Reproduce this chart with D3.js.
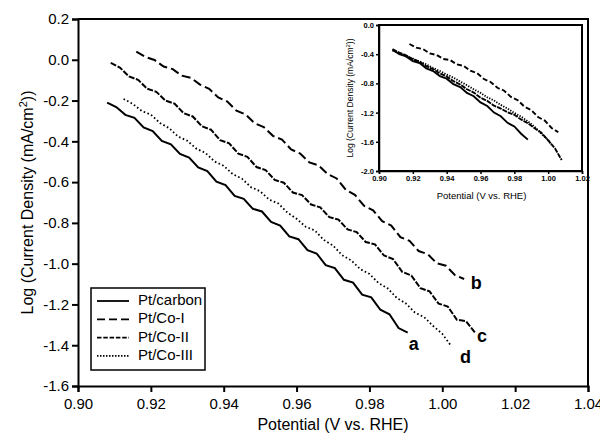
<!DOCTYPE html>
<html>
<head>
<meta charset="utf-8">
<script src="https://cdn.jsdelivr.net/npm/d3@7"></script>
<style>
  body { margin: 0; background: #fff; }
  svg { display: block; font-family: "Liberation Sans", Arial, sans-serif; }
</style>
</head>
<body>
<svg id="chart" width="600" height="441"></svg>
<script>
// Tafel-type plot: Log(current density) vs potential, with inset

// main panel data
const carbonV = [0.908,0.9105,0.913,0.9155,0.918,0.9205,0.923,0.9255,0.928,0.9305,0.933,0.9355,0.938,0.9405,0.943,0.9455,0.948,0.9505,0.953,0.9555,0.958,0.9605,0.963,0.9655,0.968,0.9705,0.973,0.9755,0.978,0.9805,0.983,0.9855,0.988,0.9905];
const carbonJ = [-0.210,-0.232,-0.270,-0.285,-0.332,-0.350,-0.398,-0.415,-0.462,-0.480,-0.528,-0.546,-0.598,-0.615,-0.668,-0.682,-0.731,-0.744,-0.795,-0.813,-0.866,-0.880,-0.934,-0.950,-1.007,-1.022,-1.079,-1.093,-1.152,-1.165,-1.226,-1.248,-1.316,-1.338];

const co1V = [0.916,0.9185,0.921,0.9235,0.926,0.9285,0.931,0.9335,0.936,0.9385,0.941,0.9435,0.946,0.9485,0.951,0.9535,0.956,0.9585,0.961,0.9635,0.966,0.9685,0.971,0.9735,0.976,0.9785,0.981,0.9835,0.986,0.9885,0.991,0.9935,0.996,0.9985,1.001,1.0035,1.006];
const co1J = [0.040,0.014,-0.001,-0.033,-0.046,-0.078,-0.089,-0.122,-0.142,-0.185,-0.205,-0.250,-0.268,-0.312,-0.330,-0.373,-0.391,-0.440,-0.460,-0.503,-0.518,-0.560,-0.582,-0.638,-0.662,-0.716,-0.738,-0.792,-0.813,-0.870,-0.888,-0.938,-0.953,-0.998,-1.010,-1.056,-1.075];

const co2V = [0.909,0.9115,0.914,0.9165,0.919,0.9215,0.924,0.9265,0.929,0.9315,0.934,0.9365,0.939,0.9415,0.944,0.9465,0.949,0.9515,0.954,0.9565,0.959,0.9615,0.964,0.9665,0.969,0.9715,0.974,0.9765,0.979,0.9815,0.984,0.9865,0.989,0.9915,0.994,0.9965,0.999,1.0015,1.004,1.0065,1.009];
const co2J = [-0.015,-0.038,-0.082,-0.098,-0.142,-0.157,-0.200,-0.215,-0.262,-0.278,-0.326,-0.343,-0.394,-0.410,-0.460,-0.476,-0.526,-0.541,-0.589,-0.603,-0.651,-0.664,-0.710,-0.724,-0.772,-0.784,-0.832,-0.845,-0.894,-0.905,-0.960,-0.978,-1.040,-1.058,-1.120,-1.136,-1.196,-1.210,-1.275,-1.282,-1.338];

const co3V = [0.9125,0.915,0.9175,0.92,0.9225,0.925,0.9275,0.93,0.9325,0.935,0.9375,0.94,0.9425,0.945,0.9475,0.95,0.9525,0.955,0.9575,0.96,0.9625,0.965,0.9675,0.97,0.9725,0.975,0.9775,0.98,0.9825,0.985,0.9875,0.99,0.9925,0.995,0.9975,1.0,1.0025];
const co3J = [-0.192,-0.216,-0.251,-0.269,-0.310,-0.335,-0.377,-0.397,-0.436,-0.457,-0.499,-0.520,-0.561,-0.583,-0.625,-0.645,-0.686,-0.705,-0.750,-0.780,-0.819,-0.837,-0.884,-0.911,-0.958,-0.984,-1.027,-1.050,-1.095,-1.121,-1.168,-1.195,-1.240,-1.262,-1.306,-1.344,-1.405];

// inset data
const insCarbonV = [0.908,0.912,0.916,0.92,0.924,0.928,0.932,0.936,0.94,0.944,0.948,0.952,0.956,0.96,0.964,0.968,0.972,0.976,0.98,0.984,0.988];
const insCarbonJ = [-0.34,-0.40,-0.43,-0.495,-0.52,-0.595,-0.63,-0.70,-0.735,-0.81,-0.85,-0.93,-0.975,-1.06,-1.11,-1.20,-1.25,-1.34,-1.39,-1.49,-1.57];

const insCo1V = [0.918,0.922,0.926,0.93,0.934,0.938,0.942,0.946,0.95,0.954,0.958,0.962,0.966,0.97,0.974,0.978,0.982,0.986,0.99,0.994,0.998,1.002,1.006];
const insCo1J = [-0.26,-0.31,-0.33,-0.39,-0.41,-0.465,-0.48,-0.54,-0.56,-0.625,-0.66,-0.74,-0.78,-0.86,-0.90,-0.985,-1.03,-1.12,-1.165,-1.26,-1.31,-1.41,-1.47];

const insCo2V = [0.908,0.912,0.916,0.92,0.924,0.928,0.932,0.936,0.94,0.944,0.948,0.952,0.956,0.96,0.964,0.968,0.972,0.976,0.98,0.984,0.988,0.992,0.996,1.0,1.004,1.008];
const insCo2J = [-0.33,-0.38,-0.415,-0.47,-0.505,-0.565,-0.605,-0.665,-0.705,-0.77,-0.815,-0.88,-0.925,-0.995,-1.04,-1.105,-1.145,-1.195,-1.23,-1.295,-1.345,-1.415,-1.475,-1.58,-1.69,-1.85];

const insCo3V = [0.908,0.912,0.916,0.92,0.924,0.928,0.932,0.936,0.94,0.944,0.948,0.952,0.956,0.96,0.964,0.968,0.972,0.976,0.98,0.984,0.988,0.992,0.996,1.0,1.002];
const insCo3J = [-0.35,-0.385,-0.43,-0.46,-0.50,-0.54,-0.59,-0.63,-0.68,-0.72,-0.775,-0.825,-0.88,-0.93,-0.99,-1.035,-1.095,-1.145,-1.205,-1.255,-1.32,-1.395,-1.49,-1.575,-1.64];

// ticks and labels
const xTicks = [0.90,0.92,0.94,0.96,0.98,1.00,1.02,1.04];
const yTicks = [0.2,0.0,-0.2,-0.4,-0.6,-0.8,-1.0,-1.2,-1.4,-1.6];
const insXTicks = [0.90,0.92,0.94,0.96,0.98,1.00,1.02];
const insYTicks = [0.0,-0.4,-0.8,-1.2,-1.6,-2.0];
const seriesNames = ["Pt/carbon", "Pt/Co-I", "Pt/Co-II", "Pt/Co-III"];
const curveTags = ["a", "b", "c", "d"];
const dashes = [null, "9,4", "6,1.6", "1.6,2.4"];

const fmt = v => v.toFixed(2);
const fmtY = v => v.toFixed(1).replace("-0.0", "0.0");

function zip(xs, ys) {
    return xs.map((x, i) => ({ v: x, j: ys[i] }));
}

const mainSeries = [zip(carbonV, carbonJ), zip(co1V, co1J), zip(co2V, co2J), zip(co3V, co3J)];
const insetSeries = [zip(insCarbonV, insCarbonJ), zip(insCo1V, insCo1J), zip(insCo2V, insCo2J), zip(insCo3V, insCo3J)];

const svg = d3.select("#chart");

// main panel
const m = { left: 78, right: 588, top: 19, bottom: 386 };
const x = d3.scaleLinear().domain([0.90, 1.04]).range([m.left, m.right]);
const y = d3.scaleLinear().domain([-1.6, 0.2]).range([m.bottom, m.top]);

svg.append("g")
    .attr("transform", `translate(0,${m.bottom})`)
    .call(d3.axisBottom(x).tickValues(xTicks).tickFormat(fmt).tickSizeOuter(0).tickSize(6).tickPadding(6))
    .call(g => g.selectAll("text").attr("font-size", 15).attr("fill", "#000").attr("font-family", "Liberation Sans, Arial"))
    .call(g => g.selectAll("line,path").attr("stroke", "#000").attr("stroke-width", 2));

svg.append("g")
    .attr("transform", `translate(${m.left},0)`)
    .call(d3.axisLeft(y).tickValues(yTicks).tickFormat(fmtY).tickSizeOuter(0).tickSize(6).tickPadding(3))
    .call(g => g.selectAll("text").attr("font-size", 15).attr("fill", "#000").attr("font-family", "Liberation Sans, Arial"))
    .call(g => g.selectAll("line,path").attr("stroke", "#000").attr("stroke-width", 2));

// frame top/right
svg.append("path")
    .attr("d", `M${m.left},${m.top}H${m.right}V${m.bottom}`)
    .attr("fill", "none").attr("stroke", "#000").attr("stroke-width", 2);

const line = d3.line().x(d => x(d.v)).y(d => y(d.j));

svg.append("g").selectAll("path")
    .data(mainSeries)
    .join("path")
    .attr("d", line)
    .attr("fill", "none")
    .attr("stroke", "#000")
    .attr("stroke-width", (d, i) => i === 3 ? 1.8 : 2)
    .attr("stroke-dasharray", (d, i) => dashes[i]);

// curve tags next to the last point
const tagOffsets = [[6, 13], [12, 5], [7, 5], [14, 12]];
svg.append("g").selectAll("text")
    .data(mainSeries)
    .join("text")
    .attr("x", (d, i) => x(d[d.length - 1].v) + tagOffsets[i][0])
    .attr("y", (d, i) => y(d[d.length - 1].j) + tagOffsets[i][1])
    .attr("text-anchor", "middle")
    .attr("dominant-baseline", "middle")
    .attr("font-size", 18)
    .attr("font-weight", "bold")
    .text((d, i) => curveTags[i]);

// axis titles
svg.append("text")
    .attr("x", (m.left + m.right) / 2 - 0)
    .attr("y", 430)
    .attr("text-anchor", "middle")
    .attr("font-size", 16)
    .text("Potential (V vs. RHE)");

const yt = svg.append("text")
    .attr("transform", `translate(33,${(m.top + m.bottom) / 2}) rotate(-90)`)
    .attr("text-anchor", "middle")
    .attr("font-size", 16);
yt.append("tspan").text("Log (Current Density (mA/cm");
yt.append("tspan").attr("font-size", 11).attr("dy", -6).text("2");
yt.append("tspan").attr("dy", 6).text("))");

// legend
const lg = svg.append("g").attr("transform", "translate(91,288)");
lg.append("rect").attr("width", 114).attr("height", 82)
    .attr("fill", "#fff").attr("stroke", "#000").attr("stroke-width", 1.5);
const items = lg.selectAll("g.item")
    .data(seriesNames)
    .join("g")
    .attr("class", "item")
    .attr("transform", (d, i) => `translate(0,${13 + i * 18.3})`);
items.append("line")
    .attr("x1", 6).attr("x2", 38)
    .attr("stroke", "#000")
    .attr("stroke-width", 1.8)
    .attr("stroke-dasharray", (d, i) => [null, "8,4", "4.5,1.8", "1.5,1.5"][i]);
items.append("text")
    .attr("x", 47).attr("y", 0)
    .attr("dominant-baseline", "middle")
    .attr("font-size", 15)
    .text(d => d);

// inset
const n = { left: 379, right: 582, top: 25, bottom: 171 };
const ix = d3.scaleLinear().domain([0.90, 1.02]).range([n.left, n.right]);
const iy = d3.scaleLinear().domain([-2.0, 0.0]).range([n.bottom, n.top]);

svg.append("rect")
    .attr("x", n.left).attr("y", n.top)
    .attr("width", n.right - n.left).attr("height", n.bottom - n.top)
    .attr("fill", "#fff").attr("stroke", "#000").attr("stroke-width", 2);

svg.append("g")
    .attr("transform", `translate(0,${n.bottom})`)
    .call(d3.axisBottom(ix).tickValues(insXTicks).tickFormat(fmt).tickSizeOuter(0).tickSize(3).tickPadding(2))
    .call(g => g.selectAll("text").attr("font-size", 7.5).attr("font-weight", "bold").attr("fill", "#000").attr("font-family", "Liberation Sans, Arial"))
    .call(g => g.selectAll("line,path").attr("stroke", "#000").attr("stroke-width", 1.5));

svg.append("g")
    .attr("transform", `translate(${n.left},0)`)
    .call(d3.axisLeft(iy).tickValues(insYTicks).tickFormat(fmtY).tickSizeOuter(0).tickSize(3).tickPadding(2))
    .call(g => g.selectAll("text").attr("font-size", 7.5).attr("font-weight", "bold").attr("fill", "#000").attr("font-family", "Liberation Sans, Arial"))
    .call(g => g.selectAll("line,path").attr("stroke", "#000").attr("stroke-width", 1.5));

const iline = d3.line().x(d => ix(d.v)).y(d => iy(d.j));
const insDashes = [null, "5,2.5", "5,1", "1.3,1.4"];
svg.append("g").selectAll("path")
    .data(insetSeries)
    .join("path")
    .attr("d", iline)
    .attr("fill", "none")
    .attr("stroke", "#000")
    .attr("stroke-width", 1.9)
    .attr("stroke-dasharray", (d, i) => insDashes[i]);

svg.append("text")
    .attr("x", (n.left + n.right) / 2 + 1)
    .attr("y", 199)
    .attr("text-anchor", "middle")
    .attr("font-size", 9.5)
    .text("Potential (V vs. RHE)");

const iyt = svg.append("text")
    .attr("transform", `translate(353,${(n.top + n.bottom) / 2}) rotate(-90)`)
    .attr("text-anchor", "middle")
    .attr("font-size", 8.5);
iyt.append("tspan").text("Log (Current Density (mA/cm");
iyt.append("tspan").attr("font-size", 6).attr("dy", -3).text("2");
iyt.append("tspan").attr("dy", 3).text("))");
</script>
</body>
</html>
